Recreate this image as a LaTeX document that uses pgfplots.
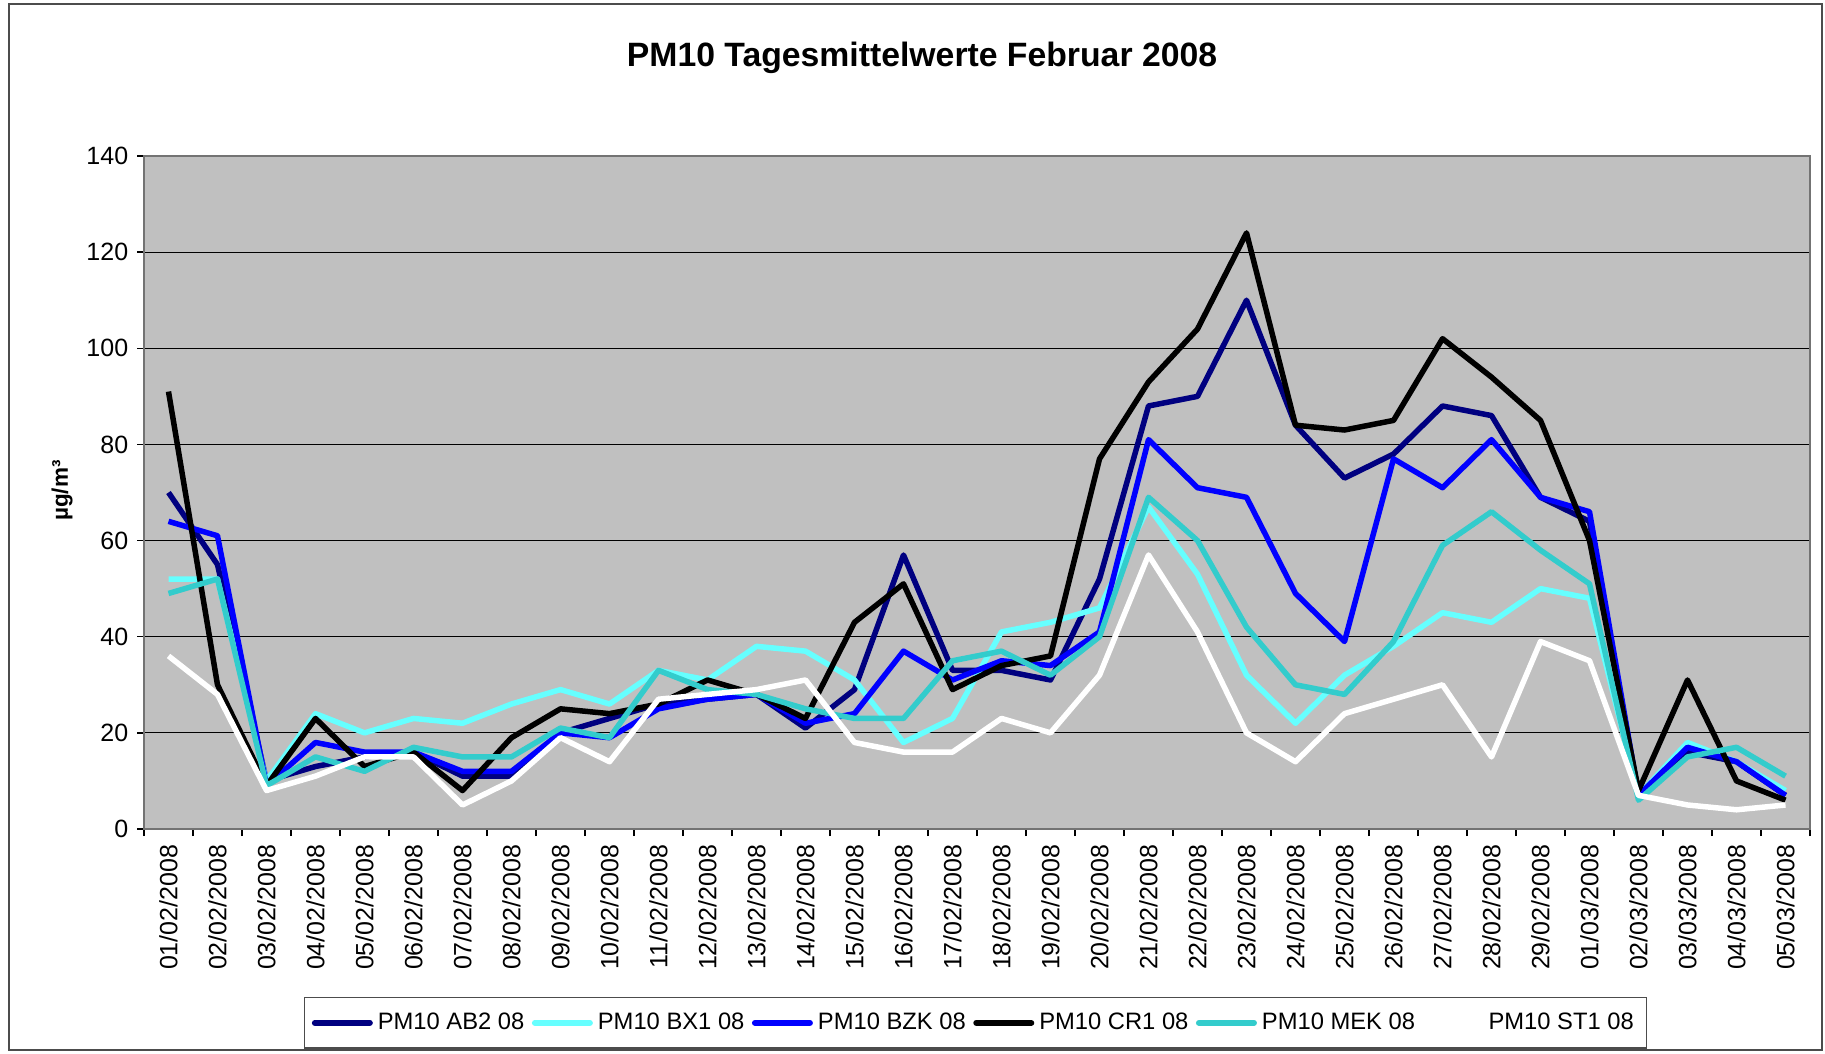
\documentclass[border=0pt]{standalone}
\usepackage{pgfplots}
\pgfplotsset{compat=1.18}
\usepackage{fontspec}
\setmainfont{Liberation Sans}
\definecolor{cAB}{HTML}{000080}
\definecolor{cBX}{HTML}{66FFFF}
\definecolor{cBZ}{HTML}{0000FF}
\definecolor{cCR}{HTML}{000000}
\definecolor{cME}{HTML}{33CCCC}
\definecolor{cST}{HTML}{FFFFFF}
\definecolor{plotbg}{HTML}{C0C0C0}
\begin{document}
\begin{tikzpicture}
\useasboundingbox (0,0) rectangle (730pt,421.2pt);
\draw[black!70, line width=0.6pt] (3.6pt,1.2pt) rectangle (728.8pt,419.6pt);
\begin{axis}[
  at={(57.6pt,89.6pt)}, anchor=south west,
  scale only axis, width=666.4pt, height=269.2pt,
  xmin=-0.5, xmax=33.5, ymin=0, ymax=140,
  axis background/.style={fill=plotbg},
  axis line style={draw=black!55, line width=0.8pt},
  xtick pos=bottom, ytick pos=left,
  xtick={0,...,33},
  xticklabels={01/02/2008,02/02/2008,03/02/2008,04/02/2008,05/02/2008,06/02/2008,07/02/2008,08/02/2008,09/02/2008,10/02/2008,11/02/2008,12/02/2008,13/02/2008,14/02/2008,15/02/2008,16/02/2008,17/02/2008,18/02/2008,19/02/2008,20/02/2008,21/02/2008,22/02/2008,23/02/2008,24/02/2008,25/02/2008,26/02/2008,27/02/2008,28/02/2008,29/02/2008,01/03/2008,02/03/2008,03/03/2008,04/03/2008,05/03/2008},
  x tick label style={rotate=90, anchor=east, font=\fontsize{10}{12}\selectfont},
  major x tick style={draw=none},
  minor xtick={-0.5,0.5,...,33.5},
  minor x tick style={draw=black, line width=0.6pt},
  minor tick length=2.8pt,
  ytick={0,20,...,140},
  y tick label style={font=\fontsize{10}{12}\selectfont},
  y tick style={draw=black, line width=0.6pt},
  major tick length=2.8pt,
  tick align=outside,
  ymajorgrids,
  major grid style={draw=black, line width=0.5pt},
  /pgf/number format/assume math mode=true,
  legend columns=6,
  legend style={at={(0.499,-0.288)}, anchor=center, draw=black!70, line width=0.6pt,
    font=\fontsize{9.5}{11}\selectfont, inner xsep=3pt, inner ysep=4pt,
    /tikz/every even column/.append style={column sep=1pt}},
  legend image code/.code={\draw[#1, line width=2.4pt, line cap=round] (1pt,0pt) -- (23pt,0pt);},
  every axis plot/.append style={line width=2.2pt, line join=round, mark=none},
]
\addplot[color=cAB] coordinates {(0,70)(1,55)(2,10)(3,13)(4,15)(5,16)(6,11)(7,11)(8,20)(9,23)(10,26)(11,27)(12,28)(13,21)(14,29)(15,57)(16,33)(17,33)(18,31)(19,52)(20,88)(21,90)(22,110)(23,84)(24,73)(25,78)(26,88)(27,86)(28,69)(29,64)(30,7)(31,16)(32,14)(33,7)};
\addlegendentry{PM10 AB2 08}
\addplot[color=cBX] coordinates {(0,52)(1,52)(2,10)(3,24)(4,20)(5,23)(6,22)(7,26)(8,29)(9,26)(10,33)(11,31)(12,38)(13,37)(14,31)(15,18)(16,23)(17,41)(18,43)(19,46)(20,67)(21,53)(22,32)(23,22)(24,32)(25,38)(26,45)(27,43)(28,50)(29,48)(30,7)(31,18)(32,14)(33,8)};
\addlegendentry{PM10 BX1 08}
\addplot[color=cBZ] coordinates {(0,64)(1,61)(2,9)(3,18)(4,16)(5,16)(6,12)(7,12)(8,20)(9,19)(10,25)(11,27)(12,28)(13,22)(14,24)(15,37)(16,31)(17,35)(18,34)(19,41)(20,81)(21,71)(22,69)(23,49)(24,39)(25,77)(26,71)(27,81)(28,69)(29,66)(30,7)(31,17)(32,14)(33,7)};
\addlegendentry{PM10 BZK 08}
\addplot[color=cCR] coordinates {(0,91)(1,30)(2,9)(3,23)(4,13)(5,16)(6,8)(7,19)(8,25)(9,24)(10,26)(11,31)(12,28)(13,23)(14,43)(15,51)(16,29)(17,34)(18,36)(19,77)(20,93)(21,104)(22,124)(23,84)(24,83)(25,85)(26,102)(27,94)(28,85)(29,60)(30,8)(31,31)(32,10)(33,6)};
\addlegendentry{PM10 CR1 08}
\addplot[color=cME] coordinates {(0,49)(1,52)(2,9)(3,15)(4,12)(5,17)(6,15)(7,15)(8,21)(9,19)(10,33)(11,29)(12,28)(13,25)(14,23)(15,23)(16,35)(17,37)(18,32)(19,40)(20,69)(21,60)(22,42)(23,30)(24,28)(25,39)(26,59)(27,66)(28,58)(29,51)(30,6)(31,15)(32,17)(33,11)};
\addlegendentry{PM10 MEK 08}
\addplot[color=cST] coordinates {(0,36)(1,28)(2,8)(3,11)(4,15)(5,15)(6,5)(7,10)(8,19)(9,14)(10,27)(11,28)(12,29)(13,31)(14,18)(15,16)(16,16)(17,23)(18,20)(19,32)(20,57)(21,41)(22,20)(23,14)(24,24)(25,27)(26,30)(27,15)(28,39)(29,35)(30,7)(31,5)(32,4)(33,5)};
\addlegendentry{PM10 ST1 08}
\end{axis}
\node[font=\bfseries\fontsize{13.5}{16}\selectfont] at (368.8pt,397.9pt) {PM10 Tagesmittelwerte Februar 2008};
\node[font=\bfseries\fontsize{9}{11}\selectfont, rotate=90] at (24.8pt,225pt) {µg/m³};
\end{tikzpicture}
\end{document}
